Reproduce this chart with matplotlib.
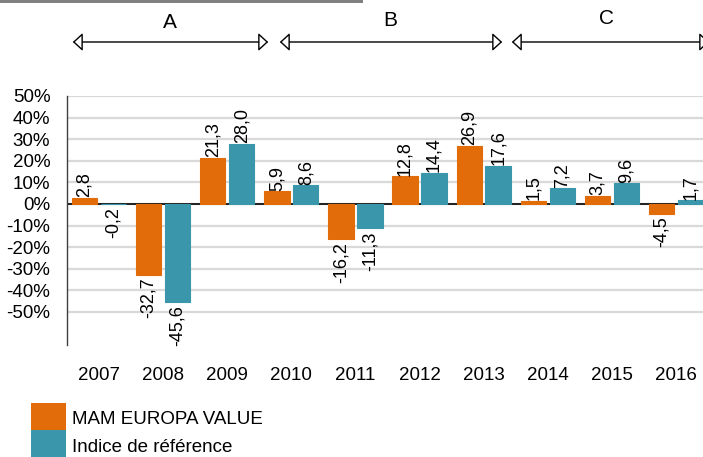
import matplotlib
matplotlib.use("Agg")
import matplotlib.pyplot as plt
from matplotlib.patches import FancyArrowPatch, Rectangle
from matplotlib.ticker import FuncFormatter

plt.rcParams['font.family'] = ['Liberation Sans', 'DejaVu Sans']
plt.rcParams['axes.unicode_minus'] = False

years = ["2007", "2008", "2009", "2010", "2011", "2012", "2013", "2014", "2015", "2016"]
fund = [2.8, -32.7, 21.3, 5.9, -16.2, 12.8, 26.9, 1.5, 3.7, -4.5]
index = [-0.2, -45.6, 28.0, 8.6, -11.3, 14.4, 17.6, 7.2, 9.6, 1.7]
series_names = ["MAM EUROPA VALUE", "Indice de référence"]
periods = ["A", "B", "C"]
yticks = [50, 40, 30, 20, 10, 0, -10, -20, -30, -40, -50]

C_FUND = "#E36C0A"
C_IDX = "#3A96AB"

W, H = 703, 457
fig = plt.figure(figsize=(W / 100, H / 100), dpi=100)

def px(x0, y0, x1, y1):
    return [x0 / W, 1 - y1 / H, (x1 - x0) / W, (y1 - y0) / H]

ax = fig.add_axes(px(67, 96, 708, 345))
x = list(range(len(years)))
bw = 0.395
off = 0.226
xf = [i - off for i in x]
xi = [i + off for i in x]
ax.axhline(0, color='black', linewidth=1.2, zorder=2)
b1 = ax.bar(xf, fund, width=bw, color=C_FUND, edgecolor=C_FUND, linewidth=0.8, zorder=3)
b2 = ax.bar(xi, index, width=bw, color=C_IDX, edgecolor=C_IDX, linewidth=0.8, zorder=3)

ax.set_xlim(-0.5, 9.5)
ax.set_ylim(-65.3, 50)
ax.set_yticks(yticks)
ax.yaxis.set_major_formatter(FuncFormatter(lambda v, p: f"{int(round(v))}%"))
ax.set_xticks(x)
ax.set_xticklabels(years)
ax.tick_params(axis='both', length=0, labelsize=13.5)
ax.tick_params(axis='y', pad=12)
ax.tick_params(axis='x', pad=16)
ax.grid(axis='y', color='#D9D9D9', linewidth=1.6, zorder=0)
for s in ['top', 'right', 'bottom']:
    ax.spines[s].set_visible(False)
ax.spines['left'].set_color('#404040')
ax.spines['left'].set_linewidth(1.0)

def fmt(v):
    return f"{v:.1f}".replace('.', ',')

for xs, vals in ((xf, fund), (xi, index)):
    for xx, v in zip(xs, vals):
        if v >= 0:
            ax.annotate(fmt(v), (xx, v), xytext=(0, 0.5), textcoords='offset points',
                        rotation=90, ha='center', va='bottom', fontsize=13, zorder=5)
        else:
            ax.annotate(fmt(v), (xx, v), xytext=(0, -2), textcoords='offset points',
                        rotation=90, ha='center', va='top', fontsize=13, zorder=5)

# overlay for decorations in pixel coordinates
ov = fig.add_axes([0, 0, 1, 1], facecolor='none')
ov.set_xlim(0, W)
ov.set_ylim(H, 0)
ov.axis('off')

ov.add_patch(Rectangle((0, 0), 363, 2.5, color='#808080', lw=0))

arrows = [(70, 271), (277, 505), (509, 712)]
label_pos = [(170, 23), (390, 20), (607, 18)]
for (a, b), (lx, ly), lab in zip(arrows, label_pos, periods):
    arr = FancyArrowPatch((a, 42), (b, 42), arrowstyle='<|-|>,head_length=6,head_width=5.5',
                          mutation_scale=1, facecolor='white', edgecolor='black',
                          linewidth=1.0, clip_on=False)
    ov.add_patch(arr)
    ov.text(lx, ly, lab, ha='center', va='center', fontsize=15)

# legend
ov.add_patch(Rectangle((31, 403), 35, 27, color=C_FUND, lw=0))
ov.add_patch(Rectangle((31, 430), 35, 27, color=C_IDX, lw=0))
ov.text(72, 420, series_names[0], ha='left', va='center', fontsize=13.5)
ov.text(72, 447, series_names[1], ha='left', va='center', fontsize=13.5)

fig.savefig("out.png", dpi=100)
